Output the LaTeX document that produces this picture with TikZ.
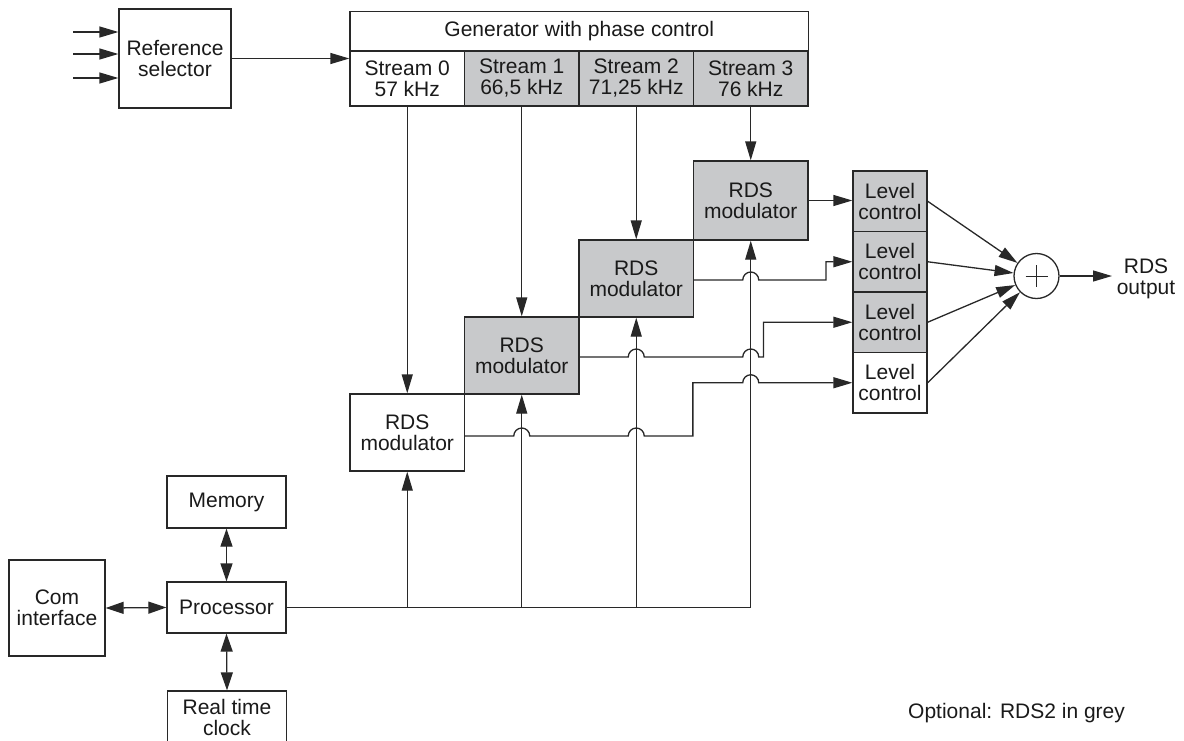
\documentclass[tikz,border=0pt]{standalone}
\usepackage{fontspec}
\setmainfont{Liberation Sans}
\usetikzlibrary{arrows.meta,calc}
\definecolor{lnc}{HTML}{282828}
\definecolor{gfill}{HTML}{C8C9CB}
\definecolor{txc}{HTML}{1A1A1A}
\begin{document}
\begin{tikzpicture}[x=1pt,y=-1pt,
 wire/.style={draw=lnc,line width=1.3pt},
 arr/.style={wire,-{Triangle[length=19pt,width=11pt]}},
 darr/.style={wire,{Triangle[length=18pt,width=12pt]}-{Triangle[length=18pt,width=12pt]}},
 box/.style={draw=lnc,line width=1.3pt,fill=white,inner sep=0pt,align=center,text=txc,font=\fontsize{21}{21}\selectfont},
 gbox/.style={box,fill=gfill},
 txt/.style={inner sep=0pt,align=center,text=txc,font=\fontsize{21}{21}\selectfont}]
\useasboundingbox (0,0) rectangle (1184,740);

% boxes
\node[box,minimum width=112,minimum height=99] (ref) at (175,58.5) {Reference\\selector};
\node[box,minimum width=458.5,minimum height=39.5] (gen) at (579.25,31.5) {Generator with phase control};
\node[box,minimum width=114.5,minimum height=55] (s0) at (407.25,78.5) {Stream 0\\57 kHz};
\node[gbox,minimum width=114.5,minimum height=55] (s1) at (521.75,78.5) {Stream 1\\66,5 kHz};
\node[gbox,minimum width=114.5,minimum height=55] (s2) at (636.25,78.5) {Stream 2\\71,25 kHz};
\node[gbox,minimum width=114.5,minimum height=55] (s3) at (750.75,78.5) {Stream 3\\76 kHz};

\node[gbox,minimum width=114.5,minimum height=79] (m3) at (750.75,200.5) {RDS\\modulator};
\node[gbox,minimum width=114.5,minimum height=77] (m2) at (636.25,278.5) {RDS\\modulator};
\node[gbox,minimum width=114.5,minimum height=77] (m1) at (521.75,355.5) {RDS\\modulator};
\node[box,minimum width=114.5,minimum height=77] (m0) at (407.25,432.5) {RDS\\modulator};

\node[gbox,minimum width=74,minimum height=60.5] (lc1) at (890,201.25) {Level\\control};
\node[gbox,minimum width=74,minimum height=60.5] (lc2) at (890,261.75) {Level\\control};
\node[gbox,minimum width=74,minimum height=60.5] (lc3) at (890,322.25) {Level\\control};
\node[box,minimum width=74,minimum height=60.5] (lc4) at (890,382.75) {Level\\control};

\node[draw=lnc,line width=1.3pt,circle,minimum size=45,inner sep=0pt,fill=white] (sum) at (1036.5,276) {};
\draw[wire,line width=1pt] ($(sum.center)+(-11,0)$) -- ($(sum.center)+(11,0)$);
\draw[wire,line width=1pt] ($(sum.center)+(0,-11)$) -- ($(sum.center)+(0,11)$);
\node[txt] (outl) at (1146,279) {RDS\\output};

\node[box,minimum width=119,minimum height=52] (mem) at (226.5,502) {Memory};
\node[box,minimum width=119,minimum height=51] (proc) at (226.5,607.5) {Processor};
\node[box,minimum width=96,minimum height=96] (com) at (57,608) {Com\\interface};
\node[box,minimum width=119,minimum height=58] (rtc) at (227,720) {};
\node[txt] (rtct) at (227,717) {Real time\\clock};

\node[txt,anchor=base west] (opt) at (908,718) {Optional: RDS2 in grey};

% coordinates
\coordinate (i1) at (73,32);
\coordinate (i2) at (73,54);
\coordinate (i3) at (73,78);
\coordinate (t1) at (763.5,0);
\coordinate (t2) at (826,0);
\coordinate (outp) at (1112,276);
\coordinate (o0) at (464.5,436);
\coordinate (o1) at (579,357);
\coordinate (o2) at (693.5,280);

% connectors
\draw[arr] (i1) -- (i1 -| ref.west);
\draw[arr] (i2) -- (i2 -| ref.west);
\draw[arr] (i3) -- (i3 -| ref.west);
\draw[arr] (ref.east) -- (ref.east -| gen.west);
\foreach \i in {0,1,2,3} {\draw[arr] (s\i.south) -- (m\i.north);}
\draw[wire] (proc.east) -- (proc.east -| m3.south);
\foreach \i in {0,1,2,3} {\draw[arr] (proc.east -| m\i.south) -- (m\i.south);}
\draw[darr] (mem.south) -- (proc.north);
\draw[darr] (proc.south) -- (rtc.north);
\draw[darr] (com.east) -- (proc.west);

\draw[arr] (m3.east) -- (m3.east -| lc1.west);
\draw[arr] (o2) -- ($(o2 -| m3.south)+(-8,0)$) arc[start angle=180,end angle=360,radius=8]
  -- (o2 -| t2) -- (t2 |- lc2.west) -- (lc2.west);
\draw[arr] (o1) -- ($(o1 -| m2.south)+(-8,0)$) arc[start angle=180,end angle=360,radius=8]
  -- ($(o1 -| m3.south)+(-8,0)$) arc[start angle=180,end angle=360,radius=8]
  -- (o1 -| t1) -- (t1 |- lc3.west) -- (lc3.west);
\draw[arr] (o0) -- ($(o0 -| m1.south)+(-8,0)$) arc[start angle=180,end angle=360,radius=8]
  -- ($(o0 -| m2.south)+(-8,0)$) arc[start angle=180,end angle=360,radius=8]
  -- (o0 -| m3.west) -- (m3.west |- lc4.west)
  -- ($(lc4.west -| m3.south)+(-8,0)$) arc[start angle=180,end angle=360,radius=8]
  -- (lc4.west);

\foreach \i in {1,2,3,4} {\draw[arr] (lc\i.east) -- (sum);}
\draw[arr] (sum.east) -- (outp);
\end{tikzpicture}
\end{document}
